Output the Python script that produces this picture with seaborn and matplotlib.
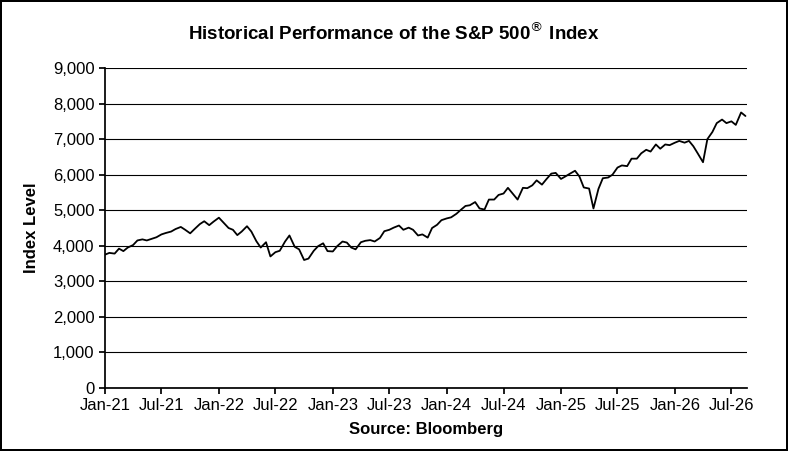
import pandas as pd
import numpy as np
import matplotlib.pyplot as plt
import matplotlib.dates as mdates
import seaborn as sns

# semi-monthly index levels (1st and 15th of each month)
start_date = '2021-01-01'
levels_2021 = [3750, 3800, 3780, 3920, 3850, 3950, 4020, 4150, 4180, 4150, 4200, 4240,
               4320, 4360, 4400, 4470, 4530, 4450, 4350, 4470, 4610, 4690, 4580, 4680]
levels_2022 = [4790, 4660, 4500, 4450, 4300, 4400, 4550, 4400, 4130, 3950, 4100, 3700,
               3820, 3860, 4120, 4290, 3970, 3900, 3600, 3640, 3860, 3990, 4070, 3850]
levels_2023 = [3840, 3990, 4120, 4090, 3950, 3900, 4100, 4140, 4160, 4120, 4220, 4410,
               4450, 4510, 4570, 4450, 4510, 4450, 4290, 4320, 4230, 4500, 4590, 4720]
levels_2024 = [4770, 4800, 4900, 5010, 5120, 5140, 5230, 5050, 5020, 5300, 5300, 5430,
               5470, 5630, 5450, 5300, 5630, 5620, 5700, 5840, 5720, 5870, 6030, 6050]
levels_2025 = [5880, 5950, 6040, 6110, 5950, 5640, 5610, 5050, 5600, 5900, 5920, 6000,
               6200, 6260, 6240, 6450, 6450, 6600, 6700, 6650, 6850, 6730, 6850, 6830]
levels_2026 = [6900, 6950, 6900, 6950, 6800, 6600, 6350, 7000, 7200, 7450, 7550, 7450,
               7500, 7400, 7750, 7650]

values = levels_2021 + levels_2022 + levels_2023 + levels_2024 + levels_2025 + levels_2026
dates = pd.date_range(start_date, periods=len(values), freq='SMS')
df = pd.DataFrame({'Date': dates, 'Index': values})

sns.set_theme(style='white')
plt.rcParams['font.family'] = ['Liberation Sans', 'DejaVu Sans']

fig = plt.figure(figsize=(7.88, 4.51), dpi=100)
fig.patch.set_edgecolor('black')
fig.patch.set_linewidth(1.5)
ax = fig.add_axes([0.1332, 0.1397, 0.8148, 0.7095])

sns.lineplot(data=df, x='Date', y='Index', ax=ax, color='black', linewidth=1.3)

ax.set_ylim(0, 9000)
ax.set_yticks(np.arange(0, 9001, 1000))
ax.yaxis.set_major_formatter(plt.FuncFormatter(lambda v, p: f'{int(v):,}'))
ax.set_xlim(pd.Timestamp('2021-01-01'), pd.Timestamp('2026-08-20'))
ax.xaxis.set_major_locator(mdates.MonthLocator(bymonth=[1, 7]))
ax.xaxis.set_major_formatter(mdates.DateFormatter('%b-%y'))
ax.grid(axis='y', color='black', linewidth=0.8)
ax.tick_params(labelsize=12, colors='black', length=4, direction='out', bottom=True, left=True)
for s in ['top', 'right']:
    ax.spines[s].set_visible(False)
for s in ['left', 'bottom']:
    ax.spines[s].set_color('black')
ax.set_ylabel('Index Level', fontsize=12, fontweight='bold', color='black', labelpad=10)
ax.set_xlabel('Source: Bloomberg', fontsize=12, fontweight='bold', color='black', labelpad=6)
fig.text(0.5, 0.928, 'Historical Performance of the S&P 500$^{®}$ Index',
         ha='center', va='center', fontsize=13.5, fontweight='bold', color='black')

fig.savefig('out.png', dpi=100, edgecolor=fig.get_edgecolor())
